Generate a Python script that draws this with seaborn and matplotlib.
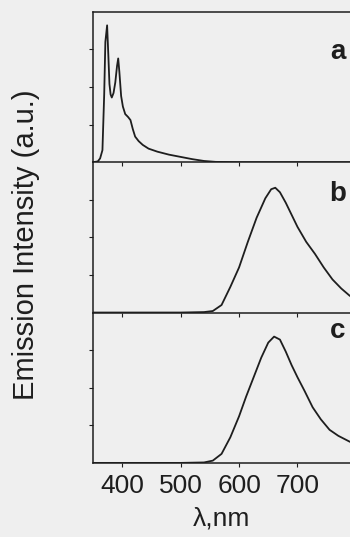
import matplotlib
matplotlib.use("Agg")
import matplotlib.pyplot as plt
import seaborn as sns
import pandas as pd

# spectrum a (UV emission)
wl_a = [350, 358, 362, 366, 369, 371, 374, 376, 378, 380, 382, 385, 388, 391, 393,
        395, 398, 401, 405, 410, 414, 418, 422, 428, 435, 445, 460, 480, 500, 520,
        540, 560, 600, 700, 790]
int_a = [0, 0.005, 0.025, 0.08, 0.45, 0.8, 0.91, 0.72, 0.52, 0.45, 0.43, 0.46, 0.53, 0.64, 0.69,
         0.6, 0.44, 0.37, 0.32, 0.30, 0.28, 0.22, 0.17, 0.14, 0.115, 0.09, 0.07, 0.05, 0.035, 0.02,
         0.008, 0.002, 0, 0, 0]

# spectrum b (red emission)
wl_b = [350, 500, 540, 555, 570, 585, 600, 615, 630, 645, 655, 662, 670, 680, 690,
        700, 715, 730, 745, 760, 775, 790]
int_b = [0, 0, 0.003, 0.01, 0.05, 0.17, 0.30, 0.47, 0.63, 0.76, 0.82, 0.83, 0.80, 0.73, 0.65,
         0.57, 0.47, 0.39, 0.30, 0.22, 0.16, 0.11]

# spectrum c (red emission)
wl_c = [350, 500, 540, 555, 570, 585, 600, 612, 625, 638, 650, 660, 670, 680, 690,
        700, 712, 726, 740, 755, 770, 790]
int_c = [0, 0, 0.003, 0.015, 0.06, 0.17, 0.31, 0.44, 0.57, 0.70, 0.80, 0.84, 0.82, 0.74, 0.65,
         0.57, 0.48, 0.37, 0.29, 0.22, 0.18, 0.14]

panel_labels = ["a", "b", "c"]
label_y = [0.73, 0.79, 0.88]
x_ticks = [400, 500, 600, 700]

sns.set_style("ticks")
plt.rcParams['font.family'] = ['Liberation Sans', 'DejaVu Sans']

bg = "#efefef"
ink = "#1e1e1e"

fig, axes = plt.subplots(3, 1, figsize=(3.5, 5.37), dpi=100, sharex=True)
fig.patch.set_facecolor(bg)
fig.subplots_adjust(left=0.266, right=1.0, top=0.978, bottom=0.138, hspace=0)

spectra = [(wl_a, int_a), (wl_b, int_b), (wl_c, int_c)]
for ax, (wl, inten), lab, ly in zip(axes, spectra, panel_labels, label_y):
    df = pd.DataFrame({"wl": wl, "I": inten})
    sns.lineplot(data=df, x="wl", y="I", ax=ax, color=ink, linewidth=1.3)
    ax.set_facecolor("none")
    ax.set_xlim(350, 790)
    ax.set_ylim(0, 1.0)
    ax.set_yticks([0.25, 0.5, 0.75])
    ax.set_yticklabels([])
    ax.set_xticks(x_ticks)
    ax.tick_params(axis="both", direction="out", length=3, width=0.8, colors=ink)
    ax.set_xlabel("")
    ax.set_ylabel("")
    for s in ["left", "bottom", "top"]:
        ax.spines[s].set_color(ink)
        ax.spines[s].set_linewidth(1.1)
    ax.spines["right"].set_visible(False)
    ax.spines["top"].set_visible(ax is axes[0])
    ax.text(0.952, ly, lab, transform=ax.transAxes,
            ha="center", va="center", fontsize=20, fontweight="bold", color=ink)

axes[-1].set_xticklabels([str(t) for t in x_ticks], fontsize=19, color=ink)
axes[-1].tick_params(axis="x", pad=5)
fig.text(0.634, 0.022, "λ,nm", ha="center", va="baseline", fontsize=19, color=ink)
fig.text(0.075, 0.545, "Emission Intensity (a.u.)", rotation=90, ha="center", va="center",
         fontsize=21, color=ink)

fig.savefig("out.png", dpi=100, facecolor=bg)
